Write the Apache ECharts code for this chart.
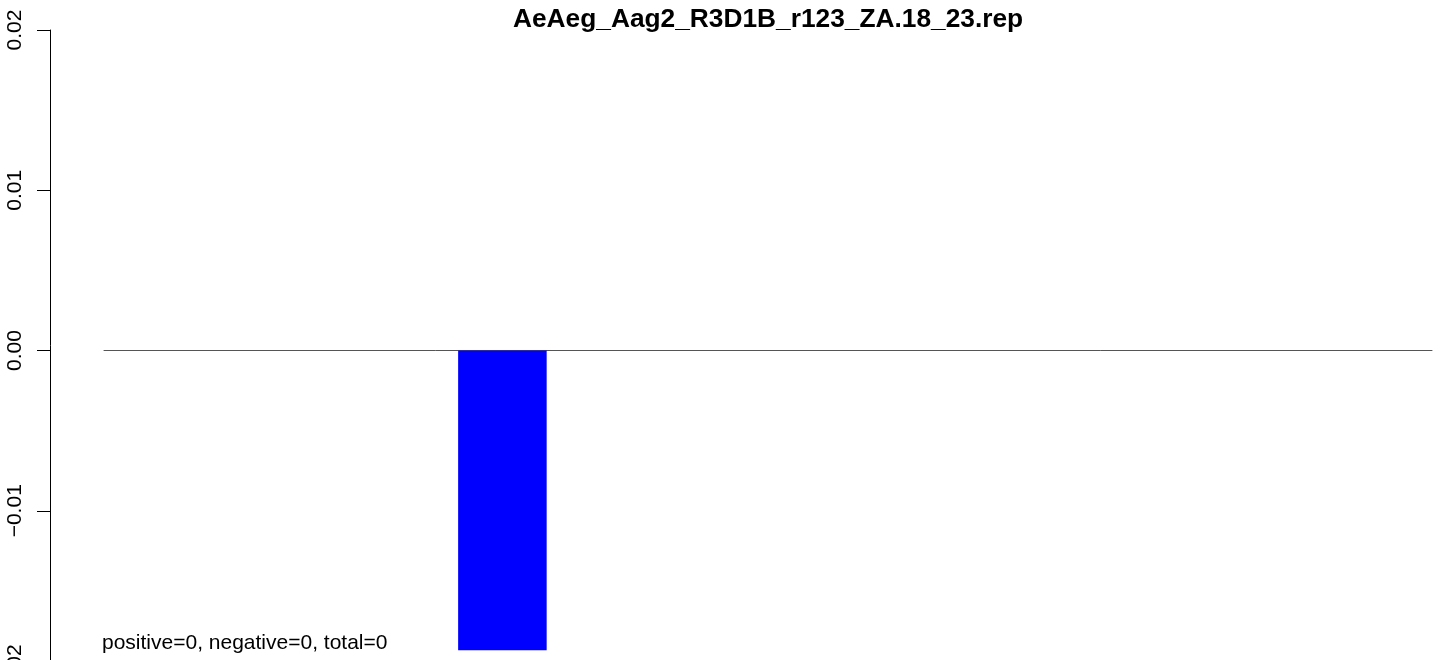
<!DOCTYPE html>
<html>
<head>
<meta charset="utf-8">
<script src="https://cdn.jsdelivr.net/npm/echarts@6/dist/echarts.min.js"></script>
<style>
html,body{margin:0;padding:0;background:#fff;}
#chart{width:1450px;height:660px;}
</style>
</head>
<body>
<div id="chart"></div>
<script>
const chartTitle = 'AeAeg_Aag2_R3D1B_r123_ZA.18_23.rep';
const noteText = 'positive=0, negative=0, total=0';
const categories = ['1','2','3','4','5','6','7','8','9','10','11','12','13','14','15'];
const values = [0, 0, 0, 0, -0.0187, 0, 0, 0, 0, 0, 0, 0, 0, 0, 0];
const yTicks = [-0.02, -0.01, 0.00, 0.01, 0.02];

const FONT = '"Liberation Sans", Arial, Helvetica, sans-serif';
const chart = echarts.init(document.getElementById('chart'), null, {renderer: 'canvas'});
chart.setOption({
  animation: false,
  backgroundColor: '#ffffff',
  title: [
    {
      text: chartTitle,
      left: 513, top: 7, padding: 0,
      textStyle: {fontFamily: FONT, fontSize: 26.3, fontWeight: 'bold', color: '#000'}
    },
    {
      text: noteText,
      left: 102, top: 633, padding: 0,
      textStyle: {fontFamily: FONT, fontSize: 21, fontWeight: 'normal', color: '#000'}
    }
  ],
  grid: {left: 104, right: 18, top: 30, height: 641, containLabel: false, outerBoundsMode: 'none'},
  xAxis: {
    type: 'category',
    data: categories,
    axisLine: {show: true, onZero: true, lineStyle: {color: '#555555', width: 1}},
    axisTick: {show: false},
    axisLabel: {show: false},
    splitLine: {show: false}
  },
  yAxis: {
    type: 'value',
    min: yTicks[0],
    max: yTicks[yTicks.length - 1],
    interval: 0.01,
    offset: 54,
    axisLine: {show: true, lineStyle: {color: '#000', width: 1}},
    axisTick: {show: true, length: 13, lineStyle: {color: '#000', width: 1}},
    splitLine: {show: false},
    axisLabel: {
      rotate: 90,
      margin: 24,
      fontFamily: FONT,
      fontSize: 21,
      color: '#000',
      showMinLabel: true,
      showMaxLabel: true,
      formatter: function (v) {
        const s = Math.abs(v).toFixed(2);
        return (v < -1e-9 ? '\u2212' : '') + s;
      }
    }
  },
  series: [{
    type: 'bar',
    data: values,
    barWidth: '100%',
    barCategoryGap: 0,
    itemStyle: {color: '#0000FF'},
    silent: true
  }]
});
</script>
</body>
</html>
